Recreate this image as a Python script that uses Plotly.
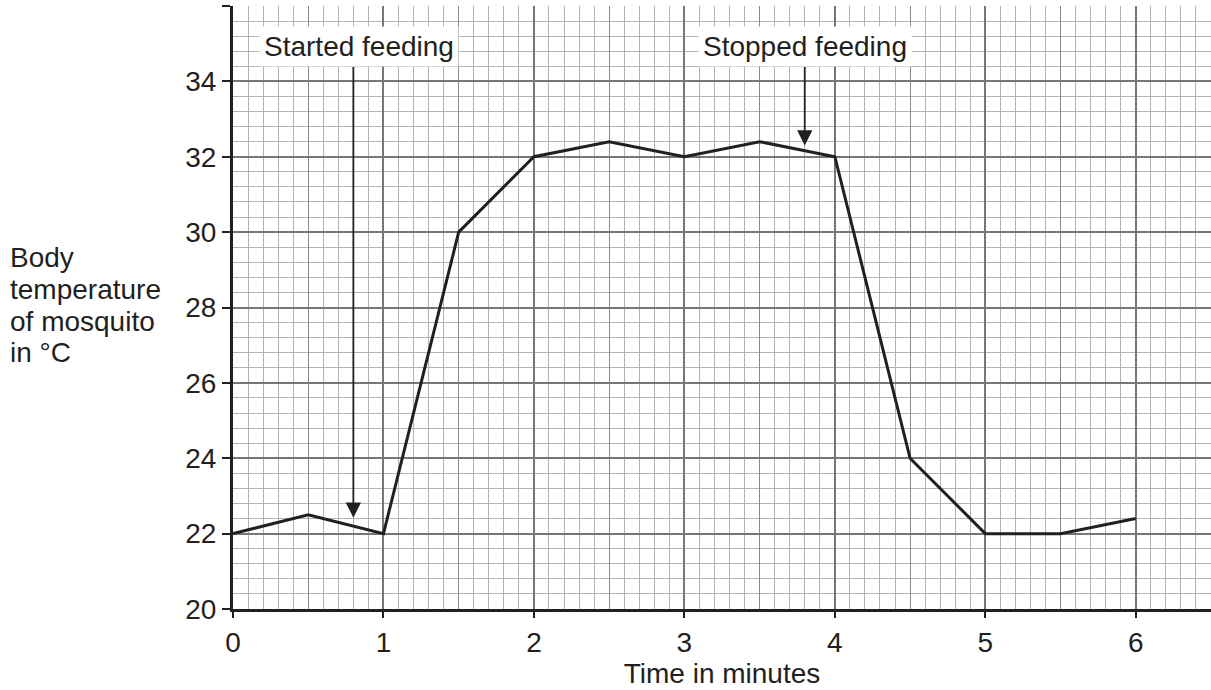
import plotly.graph_objects as go

time_min = [0, 0.5, 1, 1.5, 2, 2.5, 3, 3.5, 4, 4.5, 5, 5.5, 6]
body_temp = [22, 22.5, 22, 30, 32, 32.4, 32, 32.4, 32, 24, 22, 22, 22.4]
x_ticks = [0, 1, 2, 3, 4, 5, 6]
y_ticks = [20, 22, 24, 26, 28, 30, 32, 34]
events = ["Started feeding", "Stopped feeding"]
event_x = [0.8, 3.8]
event_label_x = [0.84, 3.8]
event_tip_y = [22.42, 32.3]
event_label_y = [34.92, 34.92]
event_arrow_start_y = [34.42, 34.42]
y_title_lines = ["Body", "temperature", "of mosquito", "in °C"]

FONT = "Liberation Sans, Arial, sans-serif"
INK = "#231f20"
XR = [0, 6.5]
YR = [20, 36]
L, R, T, B, W, H = 233, 0, 6, 81, 1211, 690
PW, PH = W - L - R, H - T - B

fig = go.Figure()
fig.add_trace(go.Scatter(x=time_min, y=body_temp, mode="lines",
                         line=dict(color=INK, width=3),
                         showlegend=False, hoverinfo="skip"))
# invisible trace to activate the integer-tick axis
fig.add_trace(go.Scatter(x=x_ticks, y=[None] * len(x_ticks), xaxis="x2",
                         mode="markers", showlegend=False, hoverinfo="skip"))

for name, ex, lx, ty, ly, sy in zip(events, event_x, event_label_x,
                                    event_tip_y, event_label_y,
                                    event_arrow_start_y):
    fig.add_annotation(x=ex, y=ty, ax=ex, ay=sy, xref="x", yref="y",
                       axref="x", ayref="y", text="", showarrow=True,
                       arrowhead=2, arrowsize=1.7, arrowwidth=1.8,
                       arrowcolor=INK)
    fig.add_annotation(x=lx, y=ly, xref="x", yref="y", text=name,
                       showarrow=False, bgcolor="white",
                       font=dict(family=FONT, size=28, color=INK),
                       borderpad=4)

for i, line in enumerate(y_title_lines):
    py = 257 + 32 * i
    fig.add_annotation(x=(8 - L) / PW, y=(H - B - py) / PH,
                       xref="paper", yref="paper",
                       xanchor="left", yanchor="middle", align="left",
                       text=line, showarrow=False,
                       font=dict(family=FONT, size=28, color=INK))

fig.update_layout(
    width=W, height=H,
    margin=dict(l=L, r=R, t=T, b=B, autoexpand=False),
    paper_bgcolor="white", plot_bgcolor="white",
    font=dict(family=FONT, size=28, color=INK),
    xaxis=dict(range=XR, tick0=0, dtick=0.5, showticklabels=False, ticks="",
               showgrid=True, gridcolor="#8a8a8a", gridwidth=1.3,
               zeroline=False, showline=True, linecolor=INK,
               linewidth=3, automargin=False,
               minor=dict(dtick=0.1, tick0=0, showgrid=True,
                          gridcolor="#b3b3b3", gridwidth=1.3)),
    xaxis2=dict(range=XR, overlaying="x", anchor="y", side="bottom",
                tickvals=x_ticks, ticks="outside", ticklen=8, tickwidth=1.5,
                tickcolor=INK, showgrid=True, gridcolor="#777777",
                gridwidth=1.7, zeroline=False, showline=False,
                automargin=False,
                tickfont=dict(family=FONT, size=28, color=INK),
                title=dict(text="Time in minutes", standoff=6,
                           font=dict(family=FONT, size=28, color=INK))),
    yaxis=dict(range=YR, tickvals=y_ticks + [36],
               ticktext=[str(v) for v in y_ticks] + [""],
               ticks="outside", ticklen=8, tickwidth=1.5,
               tickcolor=INK, showgrid=True, gridcolor="#777777",
               gridwidth=1.7, zeroline=False, showline=True,
               linecolor=INK, linewidth=3, automargin=False,
               minor=dict(dtick=0.4, tick0=20, showgrid=True,
                          gridcolor="#b3b3b3", gridwidth=1.3),
               tickfont=dict(family=FONT, size=28, color=INK)),
)

fig.write_html("out.html",
               config={"displayModeBar": False},
               post_script="document.body.style.margin='0';"
                           "document.body.style.overflow='hidden';")
